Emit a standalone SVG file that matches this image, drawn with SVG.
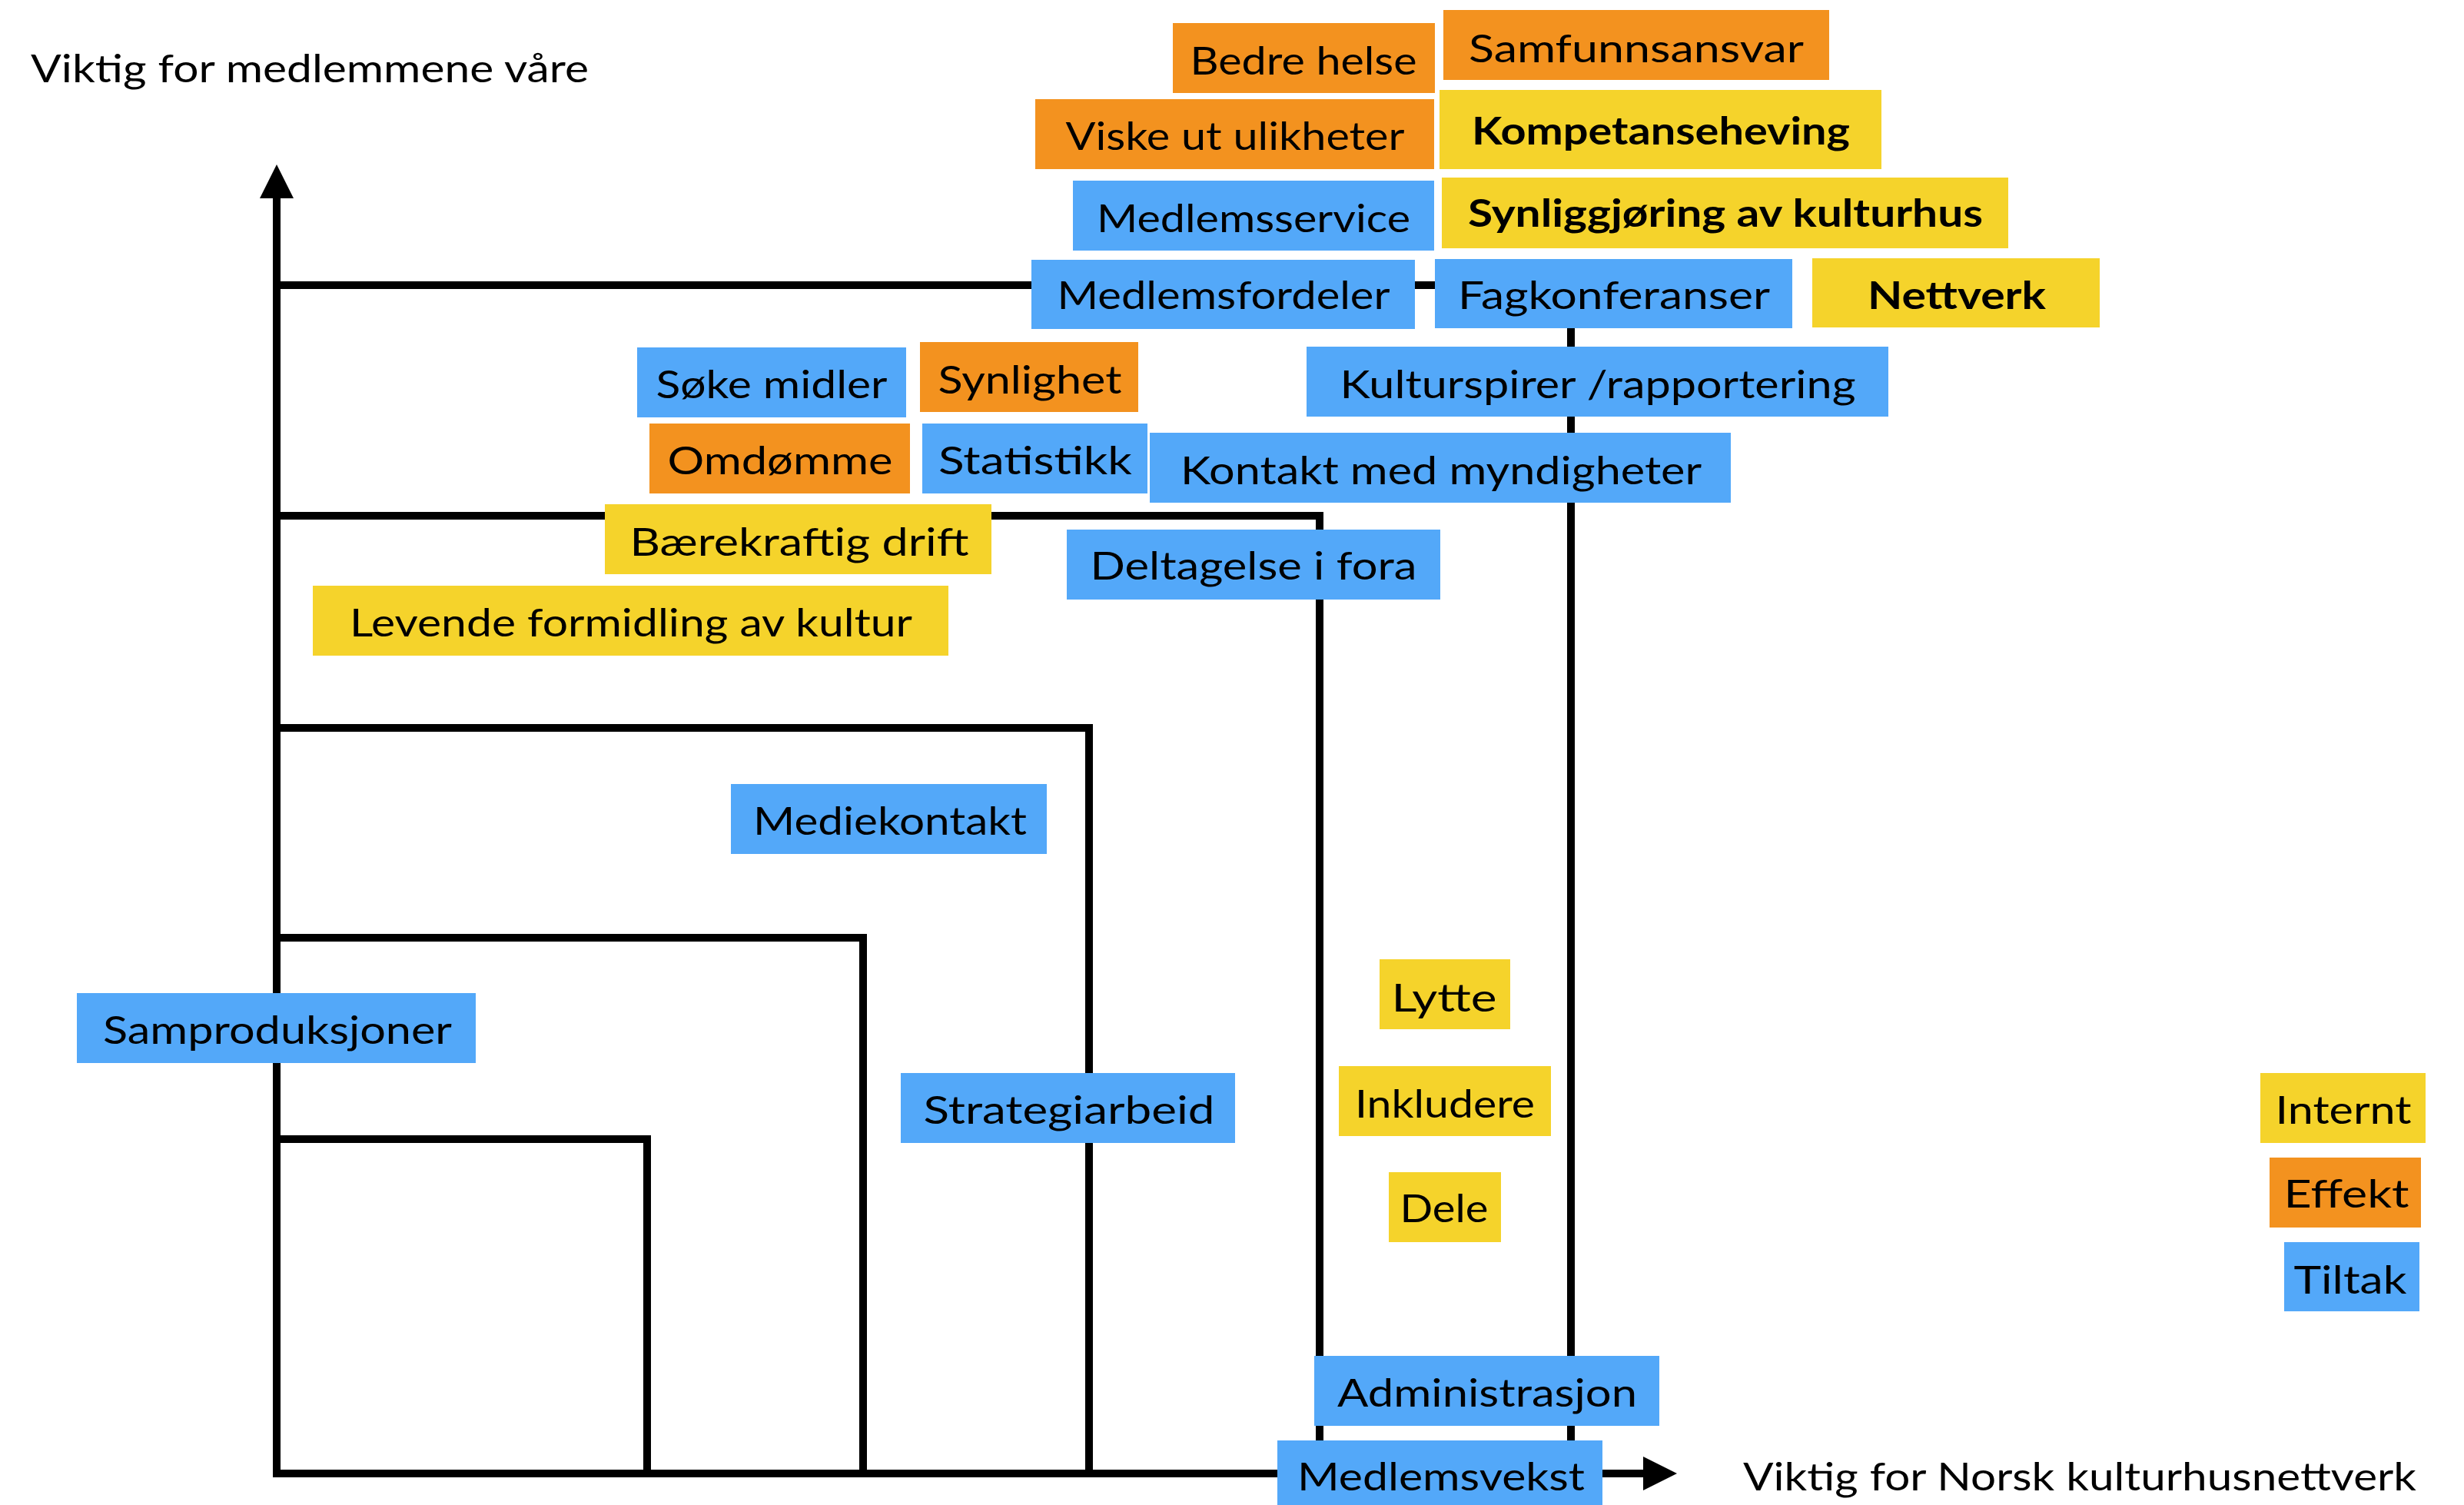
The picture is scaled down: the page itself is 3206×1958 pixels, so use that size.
<svg xmlns="http://www.w3.org/2000/svg" width="3206" height="1958" viewBox="0 0 3206 1958">
<style>
.o{fill:#F3921F}
.y{fill:#F5D32B}
.b{fill:#53A8F9}
text{font-family:Lato,"Liberation Sans",sans-serif;font-size:50px;fill:#000}
.t{text-anchor:middle}
.bold{font-weight:700}
.ln{fill:none;stroke:#000;stroke-width:10;stroke-linejoin:miter}
</style>
<defs>
<marker id="arr" markerUnits="userSpaceOnUse" markerWidth="46" markerHeight="46" refX="0" refY="22" orient="auto">
<path d="M0,0 L44,22 L0,44 Z" fill="#000"/>
</marker>
</defs>
<rect width="3206" height="1958" fill="#fff"/>
<g id="axis-labels">
<text x="40" y="107" textLength="726" lengthAdjust="spacingAndGlyphs">Viktig for medlemmene våre</text>
<text x="2268" y="1939" textLength="876" lengthAdjust="spacingAndGlyphs">Viktig for Norsk kulturhusnettverk</text>
</g>
<g id="connectors">
<path class="ln" d="M360,371 H2044 V1917"/>
<path class="ln" d="M360,671 H1717 V1917"/>
<path class="ln" d="M360,947 H1417 V1917"/>
<path class="ln" d="M360,1220 H1123 V1917"/>
<path class="ln" d="M360,1482 H842 V1917"/>
<line class="ln" x1="360" y1="1922" x2="360" y2="258" marker-end="url(#arr)"/>
<line class="ln" x1="355" y1="1917" x2="2138" y2="1917" marker-end="url(#arr)"/>
</g>
<g id="n-bedre-helse"><rect class="o" x="1526" y="30" width="341" height="91"/><text class="t" x="1696" y="97" textLength="295" lengthAdjust="spacingAndGlyphs">Bedre helse</text></g>
<g id="n-samfunnsansvar"><rect class="o" x="1878" y="13" width="502" height="91"/><text class="t" x="2129" y="81" textLength="436" lengthAdjust="spacingAndGlyphs">Samfunnsansvar</text></g>
<g id="n-viske"><rect class="o" x="1347" y="129" width="519" height="91"/><text class="t" x="1607" y="195" textLength="441" lengthAdjust="spacingAndGlyphs">Viske ut ulikheter</text></g>
<g id="n-kompetanseheving"><rect class="y" x="1873" y="117" width="575" height="103"/><text class="t bold" x="2161" y="188" textLength="492" lengthAdjust="spacingAndGlyphs">Kompetanseheving</text></g>
<g id="n-medlemsservice"><rect class="b" x="1396" y="235" width="470" height="91"/><text class="t" x="1631" y="302" textLength="408" lengthAdjust="spacingAndGlyphs">Medlemsservice</text></g>
<g id="n-synliggjoring"><rect class="y" x="1876" y="231" width="737" height="92"/><text class="t bold" x="2245" y="295" textLength="670" lengthAdjust="spacingAndGlyphs">Synliggjøring av kulturhus</text></g>
<g id="n-medlemsfordeler"><rect class="b" x="1342" y="338" width="499" height="90"/><text class="t" x="1592" y="402" textLength="433" lengthAdjust="spacingAndGlyphs">Medlemsfordeler</text></g>
<g id="n-fagkonferanser"><rect class="b" x="1867" y="337" width="465" height="90"/><text class="t" x="2100" y="402" textLength="406" lengthAdjust="spacingAndGlyphs">Fagkonferanser</text></g>
<g id="n-nettverk"><rect class="y" x="2358" y="336" width="374" height="90"/><text class="t bold" x="2546" y="402" textLength="232" lengthAdjust="spacingAndGlyphs">Nettverk</text></g>
<g id="n-soke-midler"><rect class="b" x="829" y="452" width="350" height="91"/><text class="t" x="1004" y="518" textLength="301" lengthAdjust="spacingAndGlyphs">Søke midler</text></g>
<g id="n-synlighet"><rect class="o" x="1197" y="445" width="284" height="91"/><text class="t" x="1340" y="512" textLength="239" lengthAdjust="spacingAndGlyphs">Synlighet</text></g>
<g id="n-kulturspirer"><rect class="b" x="1700" y="451" width="757" height="91"/><text class="t" x="2079" y="518" textLength="671" lengthAdjust="spacingAndGlyphs">Kulturspirer /rapportering</text></g>
<g id="n-omdomme"><rect class="o" x="845" y="551" width="339" height="91"/><text class="t" x="1015" y="617" textLength="293" lengthAdjust="spacingAndGlyphs">Omdømme</text></g>
<g id="n-statistikk"><rect class="b" x="1200" y="551" width="293" height="91"/><text class="t" x="1347" y="617" textLength="252" lengthAdjust="spacingAndGlyphs">Statistikk</text></g>
<g id="n-kontakt"><rect class="b" x="1496" y="563" width="756" height="91"/><text class="t" x="1875" y="630" textLength="678" lengthAdjust="spacingAndGlyphs">Kontakt med myndigheter</text></g>
<g id="n-baerekraftig"><rect class="y" x="787" y="656" width="503" height="91"/><text class="t" x="1040" y="723" textLength="441" lengthAdjust="spacingAndGlyphs">Bærekraftig drift</text></g>
<g id="n-deltagelse"><rect class="b" x="1388" y="689" width="486" height="91"/><text class="t" x="1631" y="754" textLength="425" lengthAdjust="spacingAndGlyphs">Deltagelse i fora</text></g>
<g id="n-levende"><rect class="y" x="407" y="762" width="827" height="91"/><text class="t" x="821" y="828" textLength="732" lengthAdjust="spacingAndGlyphs">Levende formidling av kultur</text></g>
<g id="n-mediekontakt"><rect class="b" x="951" y="1020" width="411" height="91"/><text class="t" x="1158" y="1086" textLength="356" lengthAdjust="spacingAndGlyphs">Mediekontakt</text></g>
<g id="n-samproduksjoner"><rect class="b" x="100" y="1292" width="519" height="91"/><text class="t" x="361" y="1358" textLength="454" lengthAdjust="spacingAndGlyphs">Samproduksjoner</text></g>
<g id="n-strategiarbeid"><rect class="b" x="1172" y="1396" width="435" height="91"/><text class="t" x="1391" y="1462" textLength="379" lengthAdjust="spacingAndGlyphs">Strategiarbeid</text></g>
<g id="n-lytte"><rect class="y" x="1795" y="1248" width="170" height="91"/><text class="t" x="1879" y="1316" textLength="137" lengthAdjust="spacingAndGlyphs">Lytte</text></g>
<g id="n-inkludere"><rect class="y" x="1742" y="1387" width="276" height="91"/><text class="t" x="1880" y="1454" textLength="234" lengthAdjust="spacingAndGlyphs">Inkludere</text></g>
<g id="n-dele"><rect class="y" x="1807" y="1525" width="146" height="91"/><text class="t" x="1879" y="1590" textLength="115" lengthAdjust="spacingAndGlyphs">Dele</text></g>
<g id="n-internt"><rect class="y" x="2941" y="1396" width="215" height="91"/><text class="t" x="3049" y="1462" textLength="177" lengthAdjust="spacingAndGlyphs">Internt</text></g>
<g id="n-effekt"><rect class="o" x="2953" y="1506" width="197" height="91"/><text class="t" x="3053" y="1571" textLength="163" lengthAdjust="spacingAndGlyphs">Effekt</text></g>
<g id="n-tiltak"><rect class="b" x="2972" y="1616" width="176" height="90"/><text class="t" x="3058" y="1683" textLength="147" lengthAdjust="spacingAndGlyphs">Tiltak</text></g>
<g id="n-administrasjon"><rect class="b" x="1710" y="1764" width="449" height="91"/><text class="t" x="1935" y="1830" textLength="390" lengthAdjust="spacingAndGlyphs">Administrasjon</text></g>
<g id="n-medlemsvekst"><rect class="b" x="1662" y="1874" width="423" height="91"/><text class="t" x="1875" y="1939" textLength="374" lengthAdjust="spacingAndGlyphs">Medlemsvekst</text></g>
</svg>
